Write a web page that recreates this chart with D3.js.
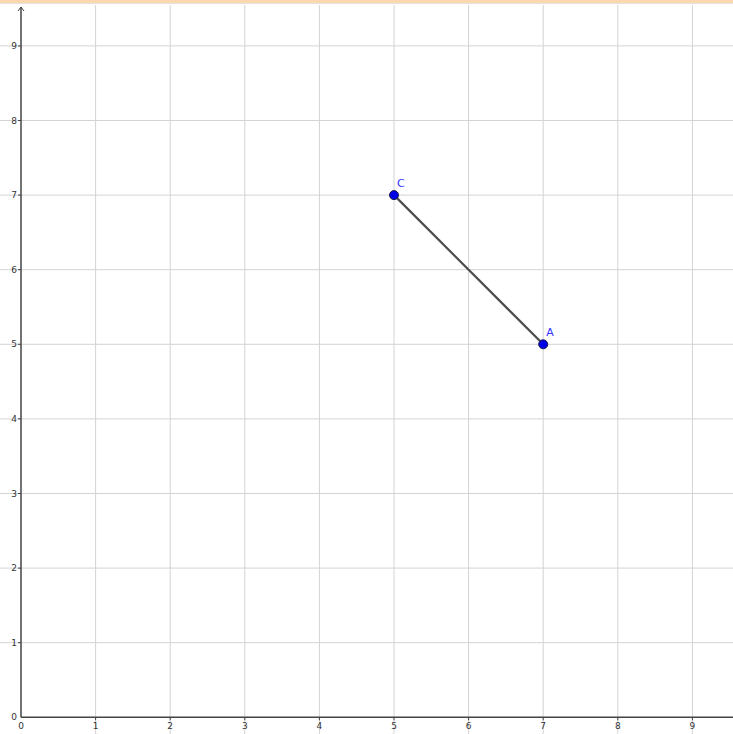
<!DOCTYPE html>
<html>
<head>
<meta charset="utf-8">
<script src="https://cdn.jsdelivr.net/npm/d3@7"></script>
<style>
	body { margin: 0; background: #fff; }
	svg { display: block; font-family: "DejaVu Sans", sans-serif; }
</style>
</head>
<body>
<div id="chart"></div>
<script>
// Grid ticks on both axes
var xTicks = [0, 1, 2, 3, 4, 5, 6, 7, 8, 9];
var yTicks = [0, 1, 2, 3, 4, 5, 6, 7, 8, 9];
// Points and the segment between them
var pointNames = ['C', 'A'];
var pointX = [5, 7];
var pointY = [7, 5];

var width = 733, height = 734;
var svg = d3.select('#chart').append('svg')
	.attr('width', width).attr('height', height);

var x = d3.scaleLinear().domain([0, 9]).range([21, 692.4]);
var y = d3.scaleLinear().domain([0, 9]).range([717.3, 45.9]);

// Grid lines
svg.selectAll('line.gx').data(xTicks.slice(1)).enter().append('line')
	.attr('x1', d => x(d)).attr('x2', d => x(d)).attr('y1', 5).attr('y2', height)
	.style('stroke', '#d3d3d3').style('stroke-width', 1);
svg.selectAll('line.gy').data(yTicks.slice(1)).enter().append('line')
	.attr('x1', 0).attr('x2', width).attr('y1', d => y(d)).attr('y2', d => y(d))
	.style('stroke', '#d3d3d3').style('stroke-width', 1);

// Top bar of the window
svg.append('rect').attr('x', 0).attr('y', 0).attr('width', width).attr('height', 3)
	.style('fill', '#fbd6ae');
svg.append('line').attr('x1', 0).attr('x2', width).attr('y1', 3.5).attr('y2', 3.5)
	.style('stroke', '#e4e4e4');

// Axes
svg.append('line').attr('x1', x(0)).attr('x2', width).attr('y1', y(0)).attr('y2', y(0))
	.style('stroke', '#444').style('stroke-width', 1.5);
svg.append('line').attr('x1', x(0)).attr('x2', x(0)).attr('y1', y(0)).attr('y2', 7)
	.style('stroke', '#444').style('stroke-width', 1.5);
svg.append('path')
	.attr('d', 'M' + (x(0) - 3) + ',11 L' + x(0) + ',7 L' + (x(0) + 3) + ',11')
	.style('fill', 'none').style('stroke', '#444').style('stroke-width', 1);

// Tick marks and labels
svg.selectAll('line.tx').data(xTicks.slice(1)).enter().append('line')
	.attr('x1', d => x(d)).attr('x2', d => x(d)).attr('y1', y(0)).attr('y2', y(0) + 3)
	.style('stroke', '#444');
svg.selectAll('line.ty').data(yTicks.slice(1)).enter().append('line')
	.attr('x1', x(0) - 3).attr('x2', x(0)).attr('y1', d => y(d)).attr('y2', d => y(d))
	.style('stroke', '#444');
svg.selectAll('text.lx').data(xTicks).enter().append('text')
	.attr('x', d => x(d)).attr('y', y(0) + 12)
	.attr('text-anchor', 'middle').style('font-size', '9px').style('fill', '#333')
	.text(d => d);
svg.selectAll('text.ly').data(yTicks).enter().append('text')
	.attr('x', x(0) - 4).attr('y', d => y(d) + 3)
	.attr('text-anchor', 'end').style('font-size', '9px').style('fill', '#333')
	.text(d => d);

// Segment CA
svg.append('line')
	.attr('x1', x(pointX[0])).attr('y1', y(pointY[0]))
	.attr('x2', x(pointX[1])).attr('y2', y(pointY[1]))
	.style('stroke', '#4d4d4d').style('stroke-width', 2.2);

// Points and labels
svg.selectAll('circle').data(pointNames).enter().append('circle')
	.attr('cx', (d, i) => x(pointX[i])).attr('cy', (d, i) => y(pointY[i])).attr('r', 4.5)
	.style('fill', '#0000e6').style('stroke', '#1a1a4d').style('stroke-width', 1);
svg.selectAll('text.pl').data(pointNames).enter().append('text')
	.attr('x', (d, i) => x(pointX[i]) + 3).attr('y', (d, i) => y(pointY[i]) - 8)
	.style('font-size', '11px').style('fill', '#3333ff')
	.text(d => d);
</script>
</body>
</html>
